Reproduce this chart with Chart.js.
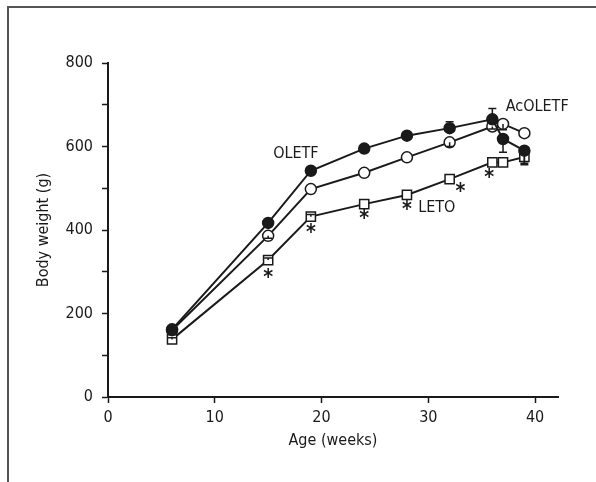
<!DOCTYPE html>
<html>
<head>
<meta charset="utf-8">
<script src="https://cdn.jsdelivr.net/npm/chart.js@4"></script>
<style>
  html, body { margin: 0; padding: 0; background: #fff; }
  #wrap { position: relative; width: 596px; height: 482px; overflow: hidden; }
  #frame { position: absolute; left: 7px; top: 6px; right: -4px; bottom: -4px;
           border-left: 2px solid #555; border-top: 2px solid #555; }
  canvas { position: absolute; left: 0; top: 0; }
</style>
</head>
<body>
<div id="wrap">
  <div id="frame"></div>
  <canvas id="chart" width="596" height="482"></canvas>
</div>
<script>
const FONT = "'Liberation Sans Narrow', 'DejaVu Sans Condensed', 'Roboto Condensed', 'Liberation Sans', sans-serif";

const weeks = [6, 15, 19, 24, 28, 32, 36, 37, 39];

const oletf     = [162, 417, 542, 595, 626, 644, 665, 618, 590];
const oletfUp   = [0, 0, 0, 0, 0, 15, 26, 0, 0];
const oletfDown = [0, 0, 0, 0, 8, 0, 0, 32, 30];

const acOletf     = [160, 386, 498, 537, 574, 610, 648, 654, 632];
const acOletfUp   = [0, 0, 0, 0, 0, 0, 0, 0, 0];
const acOletfDown = [4, 6, 0, 0, 0, 10, 6, 14, 0];

const leto     = [138, 328, 432, 462, 484, 522, 562, 562, 575];
const letoUp   = [4, 5, 5, 0, 0, 0, 0, 0, 0];
const letoDown = [0, 0, 0, 0, 0, 0, 0, 0, 19];

// significance marks (x, y in data units)
const starX = [15, 19, 24, 28, 33, 35.7];
const starY = [292, 398, 432, 453, 498, 530];

// series labels
const labelText = ['OLETF', 'AcOLETF', 'LETO'];
const labelX    = [17.6, 40.2, 30.8];
const labelY    = [582, 696, 452];

const xTicks = [0, 10, 20, 30, 40];
const yLabelled = [0, 200, 400, 600, 800];

const toPts = ys => weeks.map((w, i) => ({ x: w, y: ys[i] }));

const errorBars = {
  id: 'errorBars',
  afterDatasetsDraw(chart) {
    const { ctx, scales: { x, y } } = chart;
    const sets = [[oletf, oletfUp, oletfDown], [acOletf, acOletfUp, acOletfDown], [leto, letoUp, letoDown]];
    ctx.save();
    ctx.strokeStyle = '#1a1a1a';
    ctx.lineWidth = 1.5;
    sets.forEach(([vals, up, down]) => {
      weeks.forEach((w, i) => {
        const px = x.getPixelForValue(w);
        const py = y.getPixelForValue(vals[i]);
        [[up[i], 1], [down[i], -1]].forEach(([e, s]) => {
          if (!e) return;
          const ey = y.getPixelForValue(vals[i] + s * e);
          ctx.beginPath();
          ctx.moveTo(px, py); ctx.lineTo(px, ey);
          ctx.moveTo(px - 4, ey); ctx.lineTo(px + 4, ey);
          ctx.stroke();
        });
      });
    });
    ctx.restore();
  }
};

const annotations = {
  id: 'annotations',
  afterDraw(chart) {
    const { ctx, scales: { x, y } } = chart;
    ctx.save();
    ctx.fillStyle = '#1a1a1a';
    ctx.textAlign = 'center';
    ctx.textBaseline = 'middle';
    ctx.font = `16px ${FONT}`;
    labelText.forEach((t, i) => ctx.fillText(t, x.getPixelForValue(labelX[i]), y.getPixelForValue(labelY[i])));
    ctx.font = `bold 21px ${FONT}`;
    starX.forEach((sx, i) => ctx.fillText('*', x.getPixelForValue(sx), y.getPixelForValue(starY[i]) + 3));
    ctx.restore();
  }
};

const common = { borderColor: '#1a1a1a', borderWidth: 2, pointBorderColor: '#1a1a1a', pointBorderWidth: 1.5, tension: 0 };

new Chart(document.getElementById('chart'), {
  type: 'line',
  data: {
    datasets: [
      { ...common, label: 'OLETF', data: toPts(oletf), pointStyle: 'circle', pointRadius: 5.5, pointBackgroundColor: '#1a1a1a' },
      { ...common, label: 'AcOLETF', data: toPts(acOletf), pointStyle: 'circle', pointRadius: 5.5, pointBackgroundColor: '#fff' },
      { ...common, label: 'LETO', data: toPts(leto), pointStyle: 'rect', pointRadius: 6.5, pointBackgroundColor: '#fff' },
    ],
  },
  options: {
    responsive: false,
    animation: false,
    devicePixelRatio: 1,
    layout: { padding: { top: 63, right: 38, left: 0, bottom: 0 } },
    plugins: { legend: { display: false }, tooltip: { enabled: false } },
    scales: {
      x: {
        type: 'linear',
        min: 0, max: 42.15,
        afterFit: s => { s.height = 85; },
        afterBuildTicks: s => { s.ticks = xTicks.map(v => ({ value: v })); },
        ticks: { color: '#1a1a1a', font: { family: FONT, size: 16 }, padding: 5, maxRotation: 0 },
        grid: { drawOnChartArea: false, tickLength: 6, tickColor: '#1a1a1a', tickWidth: 1.5 },
        border: { color: '#1a1a1a', width: 2 },
        title: { display: true, text: 'Age (weeks)', color: '#1a1a1a', font: { family: FONT, size: 16 }, padding: { top: 0, bottom: 32 } },
      },
      y: {
        min: 0, max: 800,
        afterFit: s => { s.width = 108; },
        ticks: {
          stepSize: 100, color: '#1a1a1a', font: { family: FONT, size: 16 }, padding: 9,
          callback: v => yLabelled.includes(v) ? v : '',
        },
        grid: { drawOnChartArea: false, tickLength: 6, tickColor: '#1a1a1a', tickWidth: 1.5 },
        border: { color: '#1a1a1a', width: 2 },
        title: { display: true, text: 'Body weight (g)', color: '#1a1a1a', font: { family: FONT, size: 16 }, padding: { top: 34, bottom: 0 } },
      },
    },
  },
  plugins: [errorBars, annotations],
});
</script>
</body>
</html>
